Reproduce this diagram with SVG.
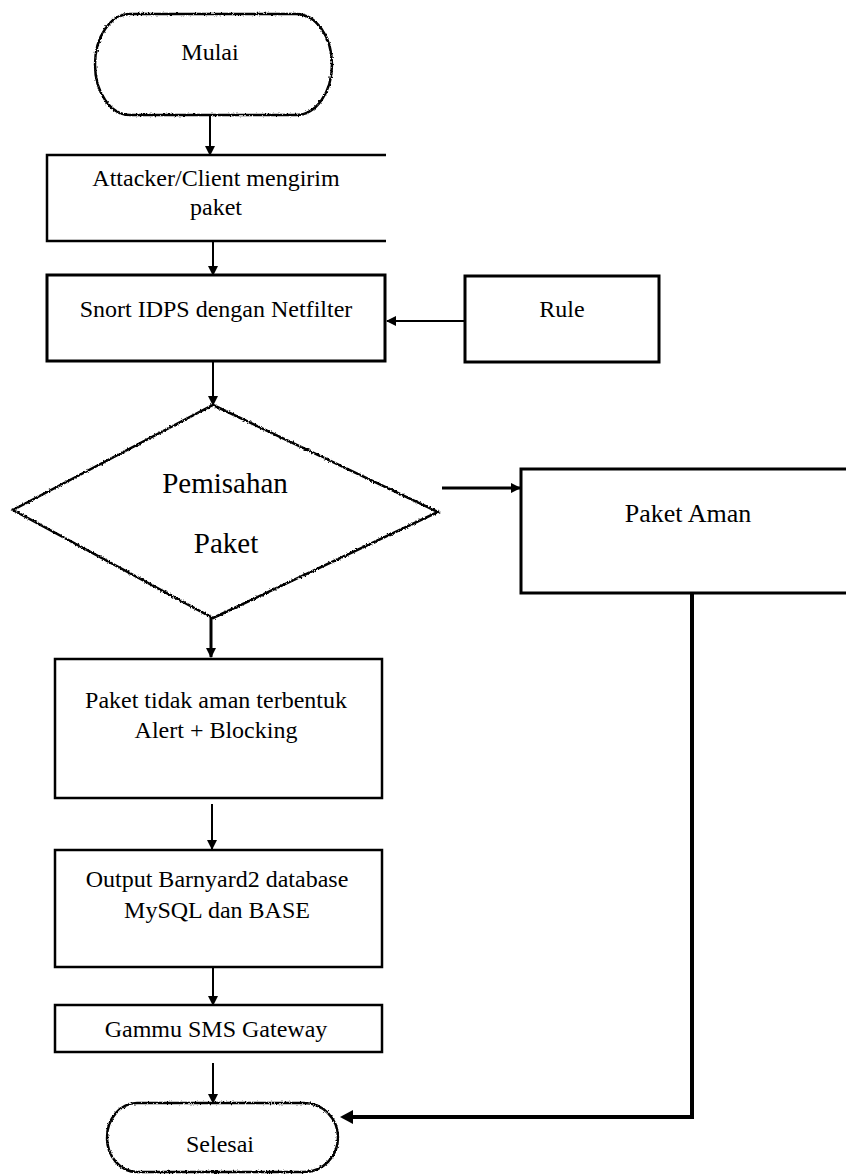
<svg xmlns="http://www.w3.org/2000/svg" width="846" height="1174" viewBox="0 0 846 1174">
<style>
  text { font-family: "Liberation Serif", "Times New Roman", serif; font-size: 24px; fill: #000; text-anchor: middle; }
  .box { fill: #fff; stroke: #000; }
  .rough { fill: #fff; stroke: #000; stroke-width: 2.5; filter: url(#rough); }
  .conn { fill: none; stroke: #000; stroke-width: 2; }
  .thick { stroke-width: 3; }
  .heavy { stroke-width: 4; }
</style>
<defs>
  <marker id="arr" viewBox="0 0 10 10" refX="9" refY="5" markerWidth="5" markerHeight="5" orient="auto" markerUnits="strokeWidth">
    <path d="M0,0 L10,5 L0,10 z" fill="#000"/>
  </marker>
  <marker id="arr3" viewBox="0 0 10 10" refX="9" refY="5" markerWidth="3.5" markerHeight="3.5" orient="auto" markerUnits="strokeWidth">
    <path d="M0,0 L10,5 L0,10 z" fill="#000"/>
  </marker>
  <filter id="rough" x="-5%" y="-5%" width="110%" height="110%">
    <feTurbulence type="fractalNoise" baseFrequency="0.6" numOctaves="2" seed="3" result="n"/>
    <feDisplacementMap in="SourceGraphic" in2="n" scale="3" xChannelSelector="R" yChannelSelector="G"/>
  </filter>
</defs>
<rect width="846" height="1174" fill="#fff"/>

<g id="connectors">
  <line class="conn" x1="210" y1="115" x2="210" y2="155" marker-end="url(#arr)"/>
  <line class="conn" x1="213" y1="241" x2="213" y2="275" marker-end="url(#arr)"/>
  <line class="conn" x1="213" y1="361" x2="213" y2="405" marker-end="url(#arr)"/>
  <line class="conn" x1="465" y1="321" x2="387" y2="321" marker-end="url(#arr)"/>
  <line class="conn thick" x1="442" y1="488" x2="520" y2="488" marker-end="url(#arr3)"/>
  <line class="conn thick" x1="211" y1="618" x2="211" y2="657" marker-end="url(#arr3)"/>
  <line class="conn" x1="212" y1="804" x2="212" y2="849" marker-end="url(#arr)"/>
  <line class="conn" x1="213" y1="958" x2="213" y2="1005" marker-end="url(#arr)"/>
  <line class="conn" x1="213" y1="1063" x2="213" y2="1103" marker-end="url(#arr)"/>
  <path class="conn heavy" d="M692,593 V1117 H350"/>
  <path d="M340,1117 L353,1110 L353,1124 z" fill="#000"/>
</g>

<g id="mulai">
  <path class="rough" d="M130,14 H296 A36,50.5 0 0 1 296,115 H130 A35,50.5 0 0 1 130,14 z"/>
  <text x="210" y="60">Mulai</text>
</g>

<g id="attacker">
  <path d="M386,155 H47 V241 H386" fill="#fff" stroke="#000" stroke-width="2.5"/>
  <text x="216" y="186">Attacker/Client mengirim</text>
  <text x="216" y="215">paket</text>
</g>

<g id="snort">
  <rect class="box" x="47" y="275" width="338" height="86" stroke-width="3"/>
  <text x="216" y="317">Snort IDPS dengan Netfilter</text>
</g>

<g id="rule">
  <rect class="box" x="465" y="276" width="194" height="86" stroke-width="3"/>
  <text x="562" y="317">Rule</text>
</g>

<g id="pemisahan">
  <path class="rough" d="M213,405 L438,512 L213,618 L13,510 z"/>
  <text x="225" y="493" style="font-size:29px">Pemisahan</text>
  <text x="226" y="553" style="font-size:29px">Paket</text>
</g>

<g id="paket-aman">
  <path d="M846,469 H521 V593 H846" fill="#fff" stroke="#000" stroke-width="3"/>
  <text x="688" y="522" style="font-size:26px">Paket Aman</text>
</g>

<g id="tidak-aman">
  <rect class="box" x="55" y="659" width="327" height="139" stroke-width="2.5"/>
  <text x="216" y="708">Paket tidak aman terbentuk</text>
  <text x="216" y="738">Alert + Blocking</text>
</g>

<g id="output">
  <rect class="box" x="55" y="850" width="327" height="117" stroke-width="2.5"/>
  <text x="217" y="887">Output Barnyard2 database</text>
  <text x="217" y="918">MySQL dan BASE</text>
</g>

<g id="gammu">
  <rect class="box" x="55" y="1005" width="327" height="47" stroke-width="2.5"/>
  <text x="216" y="1037">Gammu SMS Gateway</text>
</g>

<g id="selesai">
  <path class="rough" d="M137,1103 H304 A34,34.5 0 0 1 304,1172 H137 A30,34.5 0 0 1 137,1103 z"/>
  <text x="220" y="1152">Selesai</text>
</g>
</svg>
